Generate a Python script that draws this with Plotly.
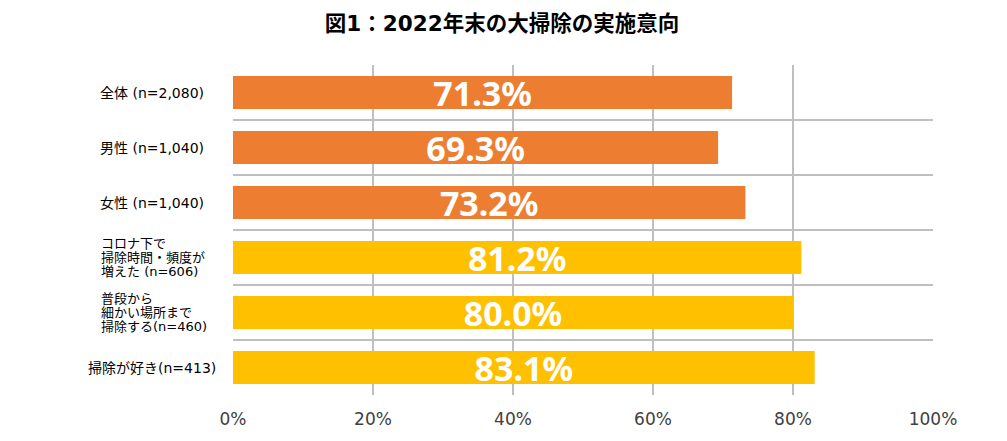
import plotly.graph_objects as go

# データ
categories = [
    "全体 (n=2,080)",
    "男性 (n=1,040)",
    "女性 (n=1,040)",
    "コロナ下で<br>掃除時間・頻度が<br>増えた (n=606)",
    "普段から<br>細かい場所まで<br>掃除する(n=460)",
    "掃除が好き(n=413)",
]
values = [71.3, 69.3, 73.2, 81.2, 80.0, 83.1]
bar_colors = ["#ED7D31", "#ED7D31", "#ED7D31", "#FFC000", "#FFC000", "#FFC000"]
x_ticks = [0, 20, 40, 60, 80, 100]
x_ticklabels = ["0%", "20%", "40%", "60%", "80%", "100%"]

label_font = "DejaVu Sans, Noto Sans CJK JP"
line_pitch = 14  # 複数行ラベルの行間(px)

fig = go.Figure()

fig.add_trace(go.Bar(
    x=values,
    y=categories,
    orientation="h",
    marker=dict(color=bar_colors, line=dict(width=0)),
    text=[f"{v:.1f}%" for v in values],
    textposition="inside",
    insidetextanchor="middle",
    constraintext="none",
    textfont=dict(family="Noto Sans", size=34, color="white", weight="bold"),
    hoverinfo="skip",
))

# 項目ラベル：1行は中央寄せ、複数行は左揃えで1行ずつ配置
for cat in categories:
    lines = cat.split("<br>")
    if len(lines) == 1:
        fig.add_annotation(
            x=-0.1157, xref="paper", y=cat, yref="y",
            text=cat, showarrow=False, xanchor="center",
            font=dict(family=label_font, size=14, color="#000000"),
        )
    else:
        n = len(lines)
        for i, line in enumerate(lines):
            fig.add_annotation(
                x=-0.1914, xref="paper", y=cat, yref="y",
                yshift=((n - 1) / 2 - i) * line_pitch,
                text=line, showarrow=False, xanchor="left",
                font=dict(family=label_font, size=13, color="#000000"),
            )

fig.update_layout(
    width=1007,
    height=441,
    margin=dict(l=225, r=82, t=57, b=54),
    paper_bgcolor="white",
    plot_bgcolor="white",
    showlegend=False,
    bargap=0.4,
    title=dict(
        text="<b>図1：2022年末の大掃除の実施意向</b>",
        x=494 / 1007, xanchor="center", y=0.964, yanchor="middle",
        font=dict(family="DejaVu Sans, Noto Sans CJK JP", size=21.5, color="#000000"),
    ),
    xaxis=dict(
        range=[0, 100],
        tickvals=x_ticks,
        ticktext=x_ticklabels,
        showgrid=True,
        gridcolor="#BFBFBF",
        gridwidth=1.5,
        zeroline=False,
        showline=False,
        ticks="",
        ticklabelstandoff=12,
        tickfont=dict(family="DejaVu Sans", size=17, color="#404040"),
        fixedrange=True,
    ),
    yaxis=dict(
        categoryorder="array",
        categoryarray=categories,
        autorange="reversed",
        tickson="boundaries",
        showgrid=True,
        gridcolor="#BFBFBF",
        gridwidth=1.5,
        showticklabels=False,
        ticks="",
        showline=False,
        zeroline=False,
        fixedrange=True,
    ),
)

fig.write_html("out.html")
